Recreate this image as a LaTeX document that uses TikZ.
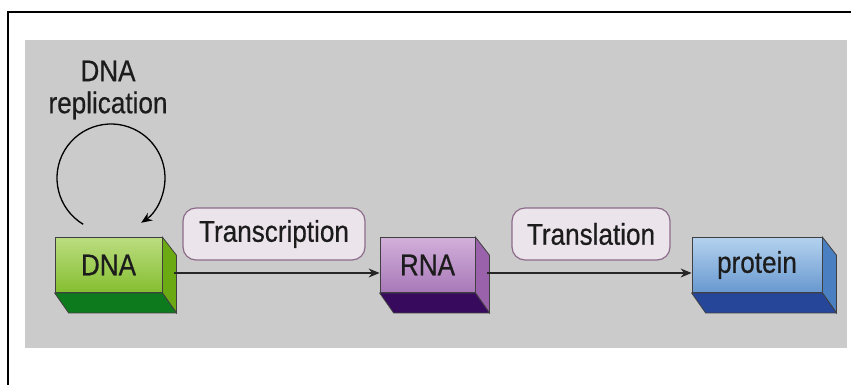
\documentclass[tikz,border=0pt]{standalone}
\usepackage{fontspec}
\setmainfont{Liberation Sans}
\newfontfamily\lblfont[FakeStretch=0.87,FakeBold=0.5]{Liberation Sans}
\usetikzlibrary{arrows.meta,calc}

\definecolor{panelgray}{HTML}{CBCBCB}
\definecolor{txt}{HTML}{1C1C1C}
\definecolor{tagfill}{HTML}{ECE4EB}
\definecolor{tagline}{HTML}{8C6C8A}
% green block
\definecolor{gTop}{HTML}{BCDD80}
\definecolor{gBot}{HTML}{84BE30}
\definecolor{gSide}{HTML}{6CAA14}
\definecolor{gBase}{HTML}{0E7A1E}
% purple block
\definecolor{pTop}{HTML}{D2B0DA}
\definecolor{pBot}{HTML}{A878B8}
\definecolor{pSide}{HTML}{9A62AA}
\definecolor{pBase}{HTML}{380A5E}
% blue block
\definecolor{bTop}{HTML}{B4D2EE}
\definecolor{bBot}{HTML}{6898D0}
\definecolor{bSide}{HTML}{4A80C2}
\definecolor{bBase}{HTML}{26469A}

\tikzset{
  lbl/.style={font=\lblfont\fontsize{30}{34}\selectfont, text=txt},
  block/.style={lbl, rectangle, draw=black!75, line width=0.8pt,
    minimum height=55pt, inner sep=0pt},
  tag/.style={lbl, rectangle, rounded corners=13pt, draw=tagline,
    fill=tagfill, line width=1.2pt, minimum height=52pt, inner sep=0pt},
  flow/.style={draw=black!85, line width=1.3pt,
    -{Stealth[length=11pt,width=9pt]}},
  depth/.style={draw=black!75, line width=0.8pt},
}

% side and base faces of a block, offset down-right
\newcommand{\blockdepth}[3]{%
  \filldraw[depth, fill=#2] (#1.north east) -- ($(#1.north east)+(14,18)$)
      -- ($(#1.south east)+(14,20)$) -- (#1.south east) -- cycle;
  \filldraw[depth, fill=#3] (#1.south west) -- ($(#1.south west)+(14,20)$)
      -- ($(#1.south east)+(14,20)$) -- (#1.south east) -- cycle;
}

\begin{document}
\begin{tikzpicture}[x=1pt,y=-1pt]
  \useasboundingbox (0,0) rectangle (851,385);

  % frame and panel
  \draw[line width=2.4pt] (8,385) -- (8,12) -- (851,12);
  \fill[panelgray] (25,40) rectangle (847,348);

  % blocks (front faces)
  \node[block, minimum width=107pt, top color=gTop, bottom color=gBot]
    (dna) at (108.5,265) {DNA};
  \node[block, minimum width=95pt, top color=pTop, bottom color=pBot]
    (rna) at (427.5,265) {RNA};
  \node[block, minimum width=130pt, top color=bTop, bottom color=bBot]
    (prot) at (757,265) {protein};

  \blockdepth{dna}{gSide}{gBase}
  \blockdepth{rna}{pSide}{pBase}
  \blockdepth{prot}{bSide}{bBase}

  % process labels
  \node[tag, minimum width=182pt] (tx) at (274,234) {Transcription};
  \node[tag, minimum width=158pt] (tl) at (591,234) {Translation};

  % flow arrows
  \draw[flow] ([xshift=12pt,yshift=-8pt]dna.east) -- ([yshift=-8pt]rna.west);
  \draw[flow] ([xshift=12pt,yshift=-8pt]rna.east) -- ([yshift=-8pt]prot.west);

  % replication loop
  \node[lbl, align=center] (rep) at (108,90) {DNA\\[-2pt]replication};
  \coordinate (loopc) at (111,178);
  \draw[line width=1.3pt, -{Stealth[length=11pt,width=9pt]}]
    ($(loopc)+(121:54)$) arc[start angle=121, end angle=416, radius=54];
\end{tikzpicture}
\end{document}
